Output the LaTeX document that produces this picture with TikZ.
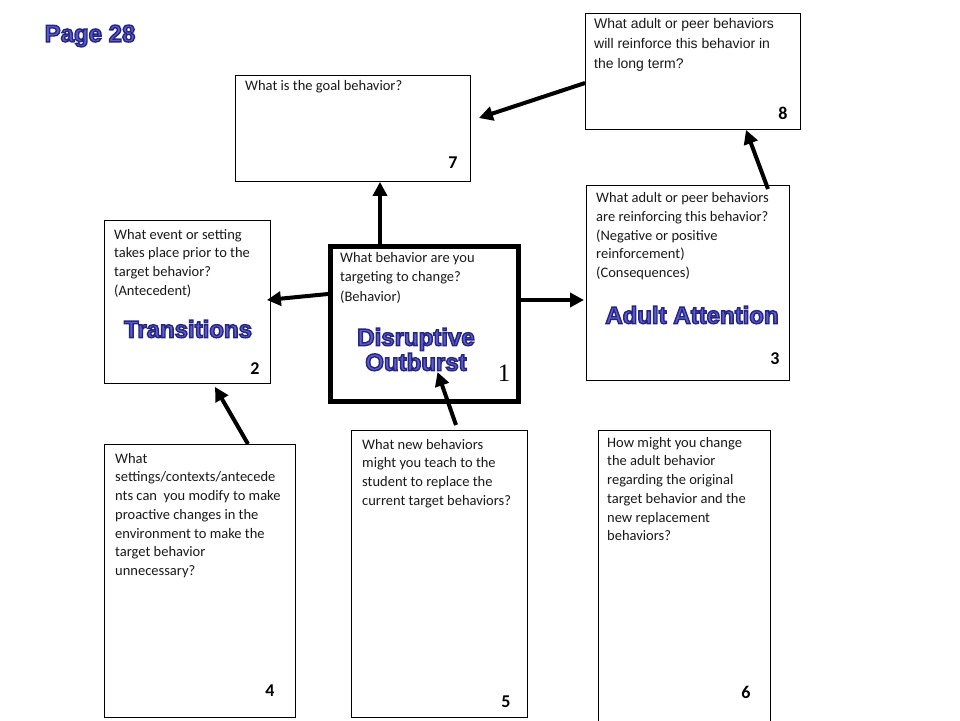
\documentclass[tikz,border=0pt]{standalone}
\usepackage{fontspec}
\setmainfont{Carlito}
\newfontfamily\arialf{Liberation Sans}
\newfontfamily\timesf{Liberation Serif}
\usetikzlibrary{arrows.meta,calc}
\definecolor{tfill}{RGB}{92,92,206}
\definecolor{tline}{RGB}{38,38,128}
\newcommand\outl[1]{{\color{tfill}\special{pdf:literal direct 2 Tr 1.4 w 0.15 0.15 0.5 RG}#1\special{pdf:literal direct 0 Tr}}}
\tikzset{
  box/.style={draw=black, line width=0.9pt, rectangle, anchor=north west, inner sep=0pt, fill=white},
  txt/.style={anchor=north west, inner sep=0pt, align=left, text=black!90, font=\fontsize{14.5}{18.7}\selectfont},
  num/.style={inner sep=0pt, font=\fontsize{18}{18}\selectfont\bfseries},
  ttl/.style={inner sep=0pt, align=center, font=\arialf\bfseries\fontsize{24}{25}\selectfont},
  arr/.style={line width=4pt, -{Triangle[length=14pt,width=14pt]}}
}
\begin{document}
\begin{tikzpicture}[x=1pt,y=-1pt]
\useasboundingbox[fill=white] (0,0) rectangle (960,720);
% boxes
\node[box, minimum width=215, minimum height=116] (b8) at (585,13) {};
\node[box, minimum width=235, minimum height=106] (b7) at (235,75) {};
\node[box, minimum width=166, minimum height=163] (b2) at (104,220) {};
\node[box, line width=5pt, minimum width=188, minimum height=155] (b1) at (328,244) {};
\node[box, minimum width=203, minimum height=195] (b3) at (586,185) {};
\node[box, minimum width=191, minimum height=273] (b4) at (104,444) {};
\node[box, minimum width=176, minimum height=287] (b5) at (351,430) {};
\node[box, minimum width=172, minimum height=310] (b6) at (598,430) {};
% texts
\node[txt, font=\arialf\fontsize{14}{20}\selectfont] (t8) at (594,18) {What adult or peer behaviors\\will reinforce this behavior in\\the long term?};
\node[txt] (t7) at (245,80) {What is the goal behavior?};
\node[txt] (t2) at (114,229) {What event or setting\\takes place prior to the\\target behavior?\\(Antecedent)};
\node[txt, font=\fontsize{14.5}{19.5}\selectfont] (t1) at (340,252) {What behavior are you\\targeting to change?\\(Behavior)};
\node[txt, font=\fontsize{14.5}{18.9}\selectfont] (t3) at (596,192) {What adult or peer behaviors\\are reinforcing this behavior?\\(Negative or positive\\reinforcement)\\(Consequences)};
\node[txt] (t4) at (115,453) {What\\settings/contexts/antecede\\nts can\ \ you modify to make\\proactive changes in the\\environment to make the\\target behavior\\unnecessary?};
\node[txt] (t5) at (362,439) {What new behaviors\\might you teach to the\\student to replace the\\current target behaviors?};
\node[txt] (t6) at (607,437) {How might you change\\the adult behavior\\regarding the original\\target behavior and the\\new replacement\\behaviors?};
% numbers
\node[num] (n7) at (453,163) {7};
\node[num] (n8) at (783,113) {8};
\node[num] (n2) at (255,369) {2};
\node[num] (n3) at (775,359) {3};
\node[num] (n4) at (270,691) {4};
\node[num] (n5) at (506,702) {5};
\node[num] (n6) at (746,692) {6};
\node[inner sep=0pt, font=\timesf\fontsize{25}{25}\selectfont] (n1) at (504,373) {1};
% titles
\node[ttl] (page) at (90,36) {\outl{Page 28}};
\node[ttl] (tr) at (188,329) {\outl{Transitions}};
\node[ttl] (do) at (416,349.5) {\outl{Disruptive}\\\outl{Outburst}};
\node[ttl] (aa) at (692,315) {\outl{Adult Attention}};
% arrows
\draw[arr] (b1.north -| 380,0) -- (b7.south -| 380,0);
\draw[arr] (b1.west |- 0,294) -- ($(b2.east |- 0,300)+(-4,0)$);
\draw[arr] (b1.east |- 0,300) -- ($(b3.west |- 0,300)+(-2,0)$);
\draw[arr] ($(b3.north -| 768,0)+(0,4)$) -- (b8.south -| 746,0);
\draw[arr] (b8.west |- 0,83) -- ($(b7.east |- 0,118)+(8,0)$);
\draw[arr] (b4.north -| 248,0) -- ($(b2.south -| 215,0)+(0,3)$);
\draw[arr] ($(b5.north -| 456,0)+(0,-5)$) -- ($(b1.south)+(13,-32)$);
\end{tikzpicture}
\end{document}
